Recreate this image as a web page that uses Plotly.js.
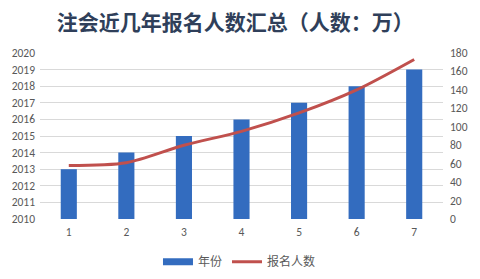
<!DOCTYPE html>
<html><head><meta charset="utf-8">
<script src="https://cdn.plot.ly/plotly-3.0.1.min.js"></script>
<style>html,body{margin:0;padding:0;background:#fff;}#c{width:480px;height:279px;}</style>
</head><body><div id="c"></div>
<script>
const categories = ["1","2","3","4","5","6","7"];
const years = [2013, 2014, 2015, 2016, 2017, 2018, 2019];
const applicants = [58, 61, 80, 95, 115, 140, 173];
const leftTicks = [2010,2011,2012,2013,2014,2015,2016,2017,2018,2019,2020];
const rightTicks = [0,20,40,60,80,100,120,140,160,180];

const tickFont = {family: "Calibri, Carlito, 'Liberation Sans', 'Noto Sans CJK SC', sans-serif", size: 11.5, color: "#595959"};

const data = [
  {type: "bar", x: categories, y: years.map(v => v - 2010), base: 2010,
   name: "年份", width: 0.28, showlegend: false,
   marker: {color: "#336cbf", line: {width: 0}}, hoverinfo: "skip"},
  {type: "scatter", mode: "lines", x: [null], y: [null], name: "年份",
   line: {color: "#336cbf", width: 7}},
  {type: "scatter", mode: "lines", x: categories, y: applicants, yaxis: "y2",
   name: "报名人数", line: {color: "#c0504d", width: 3, shape: "spline", smoothing: 0.8}}
];

const layout = {
  width: 480, height: 279,
  margin: {l: 40, r: 37, t: 53, b: 60, autoexpand: false},
  paper_bgcolor: "#fff", plot_bgcolor: "#fff",
  showlegend: true,
  title: {text: "注会近几年报名人数汇总（人数：万）", x: 0.49, xanchor: "center", y: 0.92, yanchor: "middle",
          font: {family: "'Noto Sans CJK SC', sans-serif", size: 21, color: "#2f3f5a", weight: 700}},
  xaxis: {type: "category", tickfont: tickFont, showgrid: false, zeroline: false, showline: false, ticks: "", ticklen: 0, ticklabelstandoff: 4},
  yaxis: {range: [2010, 2020], tickvals: leftTicks, tickfont: tickFont, gridcolor: "#d9d9d9", gridwidth: 1,
          zeroline: false, showline: false, ticks: "", ticklabelstandoff: 4},
  yaxis2: {range: [0, 180], tickvals: rightTicks, overlaying: "y", side: "right", tickfont: tickFont,
           showgrid: false, zeroline: false, showline: false, ticks: "", ticklabelstandoff: 6},
  legend: {orientation: "h", x: 0.495, xanchor: "center", yref: "container", y: 0.062, yanchor: "middle",
           font: {family: "'Noto Sans CJK SC', sans-serif", size: 12, color: "#595959"}, itemwidth: 30, tracegroupgap: 0},
  bargap: 0.72
};

Plotly.newPlot("c", data, layout, {staticPlot: true, displayModeBar: false});
</script></body></html>
